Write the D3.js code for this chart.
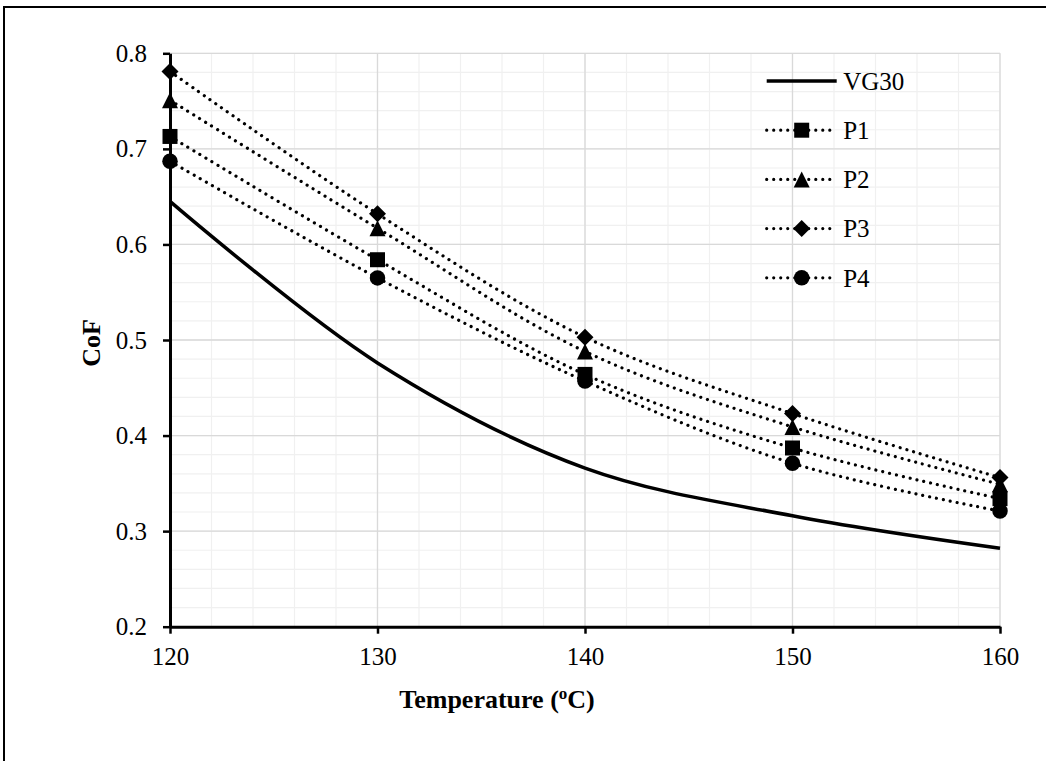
<!DOCTYPE html>
<html>
<head>
<meta charset="utf-8">
<script src="https://cdn.jsdelivr.net/npm/d3@7"></script>
<style>
  body { margin: 0; background: #fff; }
  text { font-family: "Liberation Serif", "Times New Roman", serif; fill: #000; }
</style>
</head>
<body>
<div id="chart"></div>
<script>
// temperatures (x) and CoF values
var temps = [120, 130, 140, 150, 160];
var vg30 = [0.645, 0.476, 0.366, 0.316, 0.282];
var p1 = [0.713, 0.584, 0.464, 0.387, 0.334];
var p2 = [0.751, 0.617, 0.488, 0.409, 0.349];
var p3 = [0.781, 0.632, 0.503, 0.423, 0.356];
var p4 = [0.687, 0.565, 0.457, 0.371, 0.321];
var seriesNames = ["VG30", "P1", "P2", "P3", "P4"];
var yTicks = [0.2, 0.3, 0.4, 0.5, 0.6, 0.7, 0.8];
var xTicks = [120, 130, 140, 150, 160];

var W = 1051, H = 761;
var margin = {top: 53.3, right: 51, bottom: 134.3, left: 170};
var width = W - margin.left - margin.right,
    height = H - margin.top - margin.bottom;

var svg = d3.select("#chart").append("svg")
  .attr("width", W)
  .attr("height", H);

// outer frame (top and left only)
svg.append("path")
  .attr("d", "M1046,7H4V761")
  .attr("fill", "none")
  .attr("stroke", "#000")
  .attr("stroke-width", 2);

var g = svg.append("g")
  .attr("transform", "translate(" + margin.left + "," + margin.top + ")");

var x = d3.scaleLinear().domain([120, 160]).range([0, width]);
var y = d3.scaleLinear().domain([0.2, 0.8]).range([height, 0]);

// minor grid
var minorX = d3.range(120, 160.01, 2);
var minorY = d3.range(0.2, 0.8001, 0.02);
g.append("g").selectAll("line").data(minorX).enter().append("line")
  .attr("x1", d => x(d)).attr("x2", d => x(d))
  .attr("y1", 0).attr("y2", height)
  .attr("stroke", "#f0f0f0").attr("stroke-width", 1.2);
g.append("g").selectAll("line").data(minorY).enter().append("line")
  .attr("x1", 0).attr("x2", width)
  .attr("y1", d => y(d)).attr("y2", d => y(d))
  .attr("stroke", "#f0f0f0").attr("stroke-width", 1.2);

// major grid
g.append("g").selectAll("line").data(xTicks).enter().append("line")
  .attr("x1", d => x(d)).attr("x2", d => x(d))
  .attr("y1", 0).attr("y2", height)
  .attr("stroke", "#d9d9d9").attr("stroke-width", 1.3);
g.append("g").selectAll("line").data(yTicks).enter().append("line")
  .attr("x1", 0).attr("x2", width)
  .attr("y1", d => y(d)).attr("y2", d => y(d))
  .attr("stroke", "#d9d9d9").attr("stroke-width", 1.3);

// axes
var yAxis = g.append("g")
  .call(d3.axisLeft(y).tickValues(yTicks).tickFormat(d3.format(".1f"))
    .tickSize(7).tickSizeOuter(0).tickPadding(16));
var xAxis = g.append("g")
  .attr("transform", "translate(0," + height + ")")
  .call(d3.axisBottom(x).tickValues(xTicks).tickFormat(d3.format("d"))
    .tickSize(7).tickSizeOuter(0).tickPadding(14));
[xAxis, yAxis].forEach(function (a) {
  a.attr("font-family", "'Liberation Serif', 'Times New Roman', serif");
  a.select(".domain").attr("stroke", "#000").attr("stroke-width", 3);
  a.selectAll(".tick line").attr("stroke", "#000").attr("stroke-width", 2.5);
  a.selectAll(".tick text")
    .style("font-family", "'Liberation Serif', 'Times New Roman', serif")
    .style("font-size", "25px").attr("fill", "#000");
});

// custom marker shapes (Excel-like)
var shapes = {
  square: {draw: function (c, s) { var r = Math.sqrt(s) / 2; c.rect(-r, -r, 2 * r, 2 * r); }},
  triangle: {draw: function (c, s) {
    var r = Math.sqrt(s) / 2;
    c.moveTo(0, -r); c.lineTo(r, r); c.lineTo(-r, r); c.closePath();
  }},
  diamond: {draw: function (c, s) {
    var r = Math.sqrt(s) / 2;
    c.moveTo(0, -r); c.lineTo(r, 0); c.lineTo(0, r); c.lineTo(-r, 0); c.closePath();
  }},
  circle: {draw: function (c, s) { var r = Math.sqrt(s) / 2; c.moveTo(r, 0); c.arc(0, 0, r, 0, 2 * Math.PI); }}
};

var series = [
  {name: "VG30", values: vg30, marker: null},
  {name: "P1", values: p1, marker: shapes.square, size: 15 * 15},
  {name: "P2", values: p2, marker: shapes.triangle, size: 16 * 16},
  {name: "P3", values: p3, marker: shapes.diamond, size: 17 * 17},
  {name: "P4", values: p4, marker: shapes.circle, size: 15.5 * 15.5}
];

var line = d3.line()
  .x(d => x(d[0]))
  .y(d => y(d[1]))
  .curve(d3.curveCatmullRom.alpha(0.5));

series.forEach(function (s) {
  var pts = temps.map((t, i) => [t, s.values[i]]);
  var path = g.append("path")
    .attr("d", line(pts))
    .attr("fill", "none")
    .attr("stroke", "#000");
  if (s.marker) {
    path.attr("stroke-width", 3.2)
      .attr("stroke-linecap", "round")
      .attr("stroke-dasharray", "0.01 7");
    g.append("g").selectAll("path").data(pts).enter().append("path")
      .attr("transform", d => "translate(" + x(d[0]) + "," + y(d[1]) + ")")
      .attr("d", d3.symbol().type(s.marker).size(s.size))
      .attr("fill", "#000");
  } else {
    path.attr("stroke-width", 3.5);
  }
});

// legend
var legend = svg.append("g").attr("transform", "translate(766.7,81)");
var row = legend.selectAll("g").data(series).enter().append("g")
  .attr("transform", (d, i) => "translate(0," + i * 49.2 + ")");
row.append("line")
  .attr("x1", 0).attr("x2", 70)
  .attr("stroke", "#000")
  .attr("stroke-width", d => d.marker ? 3.2 : 3.5)
  .attr("stroke-linecap", d => d.marker ? "round" : "butt")
  .attr("stroke-dasharray", d => d.marker ? "0.01 7" : null);
row.filter(d => d.marker).append("path")
  .attr("transform", "translate(35,0)")
  .attr("d", d => d3.symbol().type(d.marker).size(d.size)())
  .attr("fill", "#000");
row.append("text")
  .attr("x", 76.5)
  .attr("dy", "0.35em")
  .style("font-size", "25px")
  .text(d => d.name);

// axis titles
svg.append("text")
  .attr("transform", "translate(100,343) rotate(-90)")
  .attr("text-anchor", "middle")
  .style("font-size", "26px")
  .style("font-weight", "bold")
  .text("CoF");

var xt = svg.append("text")
  .attr("x", 497)
  .attr("y", 708)
  .attr("text-anchor", "middle")
  .style("font-size", "26px")
  .style("font-weight", "bold");
xt.append("tspan").text("Temperature (");
xt.append("tspan").attr("dy", -9).style("font-size", "17px").text("o");
xt.append("tspan").attr("dy", 9).text("C)");
</script>
</body>
</html>
